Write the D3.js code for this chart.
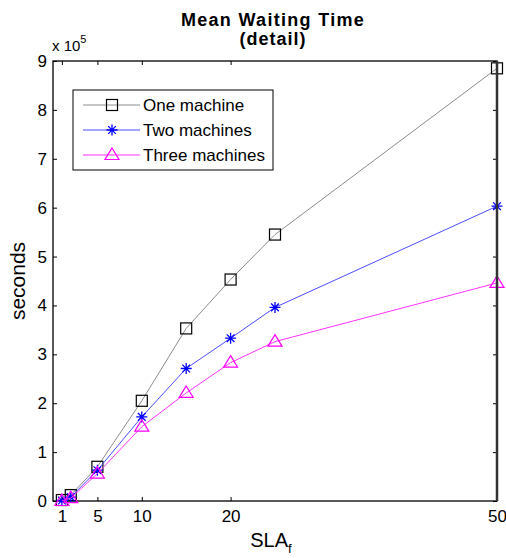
<!DOCTYPE html>
<html><head><meta charset="utf-8">
<script src="https://cdn.jsdelivr.net/npm/d3@7"></script>
<style>body{margin:0;background:#fff}text{font-family:Arial,"Liberation Sans",sans-serif}</style>
</head><body>
<script>
const xValues = [1, 2, 5, 10, 15, 20, 25, 50];
const oneMachine = [0.02, 0.12, 0.70, 2.05, 3.53, 4.53, 5.45, 8.85];
const twoMachines = [0.01, 0.08, 0.63, 1.72, 2.71, 3.33, 3.96, 6.03];
const threeMachines = [0.0, 0.06, 0.56, 1.52, 2.21, 2.83, 3.26, 4.46];
const xTicks = [1, 5, 10, 20, 50];
const yTicks = [0, 1, 2, 3, 4, 5, 6, 7, 8, 9];
const seriesNames = ["One machine", "Two machines", "Three machines"];

const W = 506, H = 558;
const svg = d3.select("body").append("svg").attr("width", W).attr("height", H);
const L = 53, R = 497, T = 61, B = 501;
const x = d3.scaleLinear().domain([0, 50]).range([L, R]);
const y = d3.scaleLinear().domain([0, 9]).range([B, T]);

const series = [
  {name: seriesNames[0], vals: oneMachine, line: "#8c8c8c", mark: "#000", shape: "square"},
  {name: seriesNames[1], vals: twoMachines, line: "#4d4dff", mark: "#0000ff", shape: "star"},
  {name: seriesNames[2], vals: threeMachines, line: "#ff33ff", mark: "#ff00ff", shape: "tri"}
];

function marker(g, shape, color) {
  if (shape === "square") {
    g.append("rect").attr("x", -5.5).attr("y", -5.5).attr("width", 11).attr("height", 11)
      .attr("fill", "none").attr("stroke", color).attr("stroke-width", 1.2);
  } else if (shape === "star") {
    const r = 5.5;
    g.append("path").attr("d", `M${-r},0H${r}M0,${-r}V${r}M${-r*0.7},${-r*0.7}L${r*0.7},${r*0.7}M${-r*0.7},${r*0.7}L${r*0.7},${-r*0.7}`)
      .attr("stroke", color).attr("stroke-width", 1.3).attr("fill", "none");
  } else {
    g.append("path").attr("d", "M0,-7L7,4.5L-7,4.5Z")
      .attr("fill", "none").attr("stroke", color).attr("stroke-width", 1.2);
  }
}

// axes box
svg.append("rect").attr("x", L).attr("y", T).attr("width", R - L).attr("height", B - T)
  .attr("fill", "none").attr("stroke", "#000").attr("stroke-width", 1.3);

// x ticks (bottom & top, inside)
const gx = svg.append("g").attr("transform", `translate(0,${B})`)
  .call(d3.axisBottom(x).tickValues(xTicks).tickSizeInner(-4).tickSizeOuter(0).tickPadding(9));
gx.select(".domain").remove();
gx.selectAll("text").attr("font-size", 17).attr("fill", "#000").attr("font-family", "Arial, 'Liberation Sans', sans-serif");
gx.selectAll("line").attr("stroke", "#000");
const gxt = svg.append("g").attr("transform", `translate(0,${T})`)
  .call(d3.axisTop(x).tickValues(xTicks.filter(v => v < 50)).tickSizeInner(-4).tickSizeOuter(0).tickFormat(""));
gxt.select(".domain").remove();

// y ticks (left & right)
const gy = svg.append("g").attr("transform", `translate(${L},0)`)
  .call(d3.axisLeft(y).tickValues(yTicks).tickSizeInner(-4).tickSizeOuter(0).tickPadding(6));
gy.select(".domain").remove();
gy.selectAll("text").attr("font-size", 17).attr("fill", "#000").attr("font-family", "Arial, 'Liberation Sans', sans-serif");
const gyr = svg.append("g").attr("transform", `translate(${R},0)`)
  .call(d3.axisRight(y).tickValues(yTicks).tickSizeInner(-4).tickSizeOuter(0).tickFormat(""));
gyr.select(".domain").remove();

// lines and markers
const line = d3.line().x((d, i) => x(xValues[i])).y(d => y(d));
series.forEach(s => {
  svg.append("path").datum(s.vals).attr("d", line).attr("fill", "none")
    .attr("stroke", s.line).attr("stroke-width", 1);
  s.vals.forEach((v, i) => {
    const g = svg.append("g").attr("transform", `translate(${x(xValues[i])},${y(v)})`);
    marker(g, s.shape, s.mark);
  });
});

// thick right border
svg.append("line").attr("x1", R).attr("x2", R).attr("y1", T).attr("y2", B)
  .attr("stroke", "#333").attr("stroke-width", 2.5);

// legend
const lg = svg.append("g");
lg.append("rect").attr("x", 73).attr("y", 90).attr("width", 200).attr("height", 80)
  .attr("fill", "#fff").attr("stroke", "#000").attr("stroke-width", 1);
series.forEach((s, i) => {
  const yy = 105 + i * 25;
  lg.append("line").attr("x1", 83).attr("x2", 140).attr("y1", yy).attr("y2", yy)
    .attr("stroke", s.line).attr("stroke-width", 1);
  const g = lg.append("g").attr("transform", `translate(112,${yy})`);
  marker(g, s.shape, s.mark);
  lg.append("text").attr("x", 143).attr("y", yy + 6).attr("font-size", 17).text(s.name);
});

// titles
svg.append("text").attr("x", (L + R) / 2 - 2).attr("y", 26).attr("text-anchor", "middle")
  .attr("font-size", 18).attr("font-weight", "bold").attr("letter-spacing", 1.3).text("Mean Waiting Time");
svg.append("text").attr("x", (L + R) / 2 - 2).attr("y", 45).attr("text-anchor", "middle")
  .attr("font-size", 18).attr("font-weight", "bold").attr("letter-spacing", 1).text("(detail)");
const ex = svg.append("text").attr("x", 52).attr("y", 51).attr("font-size", 15);
ex.append("tspan").text("x 10");
ex.append("tspan").attr("dy", -8).attr("font-size", 11).text("5");

svg.append("text").attr("transform", `translate(25,${(T + B) / 2}) rotate(-90)`)
  .attr("text-anchor", "middle").attr("font-size", 21).text("seconds");
const xl = svg.append("text").attr("x", (L + R) / 2 - 4).attr("y", 547).attr("text-anchor", "middle").attr("font-size", 20);
xl.append("tspan").text("SLA");
xl.append("tspan").attr("dy", 6).attr("font-size", 13).text("f");
</script>
</body></html>
